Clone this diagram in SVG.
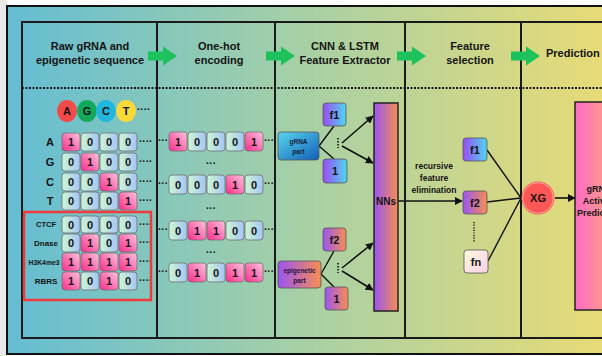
<svg xmlns="http://www.w3.org/2000/svg" width="602" height="356" viewBox="0 0 602 356">
<defs>
<linearGradient id="bg" x1="0" y1="0" x2="1" y2="0"><stop offset="0" stop-color="#63bdd3"/><stop offset="0.5" stop-color="#a8d0a5"/><stop offset="1" stop-color="#e8db76"/></linearGradient>
<linearGradient id="gOne" x1="0" y1="1" x2="1" y2="0"><stop offset="0" stop-color="#ff2a8c"/><stop offset="1" stop-color="#ffc6dd"/></linearGradient>
<linearGradient id="gZero" x1="0" y1="0" x2="1" y2="0"><stop offset="0" stop-color="#cbf7d6"/><stop offset="1" stop-color="#a6c4f4"/></linearGradient>
<linearGradient id="gPC" x1="0" y1="0" x2="1" y2="0"><stop offset="0" stop-color="#9a4cf5"/><stop offset="1" stop-color="#4fd6ee"/></linearGradient>
<linearGradient id="gPO" x1="0" y1="0" x2="1" y2="0"><stop offset="0" stop-color="#9a55f2"/><stop offset="1" stop-color="#f78d52"/></linearGradient>
<linearGradient id="gGR" x1="0" y1="0" x2="1" y2="1"><stop offset="0" stop-color="#5ad6ee"/><stop offset="1" stop-color="#1160b6"/></linearGradient>
<linearGradient id="gFN" x1="0" y1="0" x2="1" y2="1"><stop offset="0" stop-color="#fffbdc"/><stop offset="1" stop-color="#ffcfe9"/></linearGradient>
<linearGradient id="gPred" x1="0" y1="0" x2="1" y2="0"><stop offset="0" stop-color="#ff6cc4"/><stop offset="1" stop-color="#ffa57c"/></linearGradient>
<marker id="ah" viewBox="0 0 10 10" refX="9" refY="5" markerWidth="8" markerHeight="8" markerUnits="userSpaceOnUse" orient="auto"><path d="M0,0 L10,5 L0,10 z" fill="#111"/></marker>
<g id="garrow"><path d="M0,-4.5 H15 V-9.5 L29,0 L15,9.5 V4.5 H0 z" fill="#1ec25c"/></g>
</defs>
<style>
text{font-family:"Liberation Sans",Arial,sans-serif;font-weight:bold;fill:#141414;text-anchor:middle}
.hd{font-size:11px}
.one{fill:url(#gOne);stroke:#6e6e6e;stroke-width:0.8}
.zero{fill:url(#gZero);stroke:#6e6e6e;stroke-width:0.8}
.d{font-size:11px}
.lab{font-size:11px}
.sm{font-size:7.5px}
.dots{font-size:10px;text-anchor:start}
.bx{stroke:#555;stroke-width:0.8}
.ln{stroke:#111;stroke-width:1.4;fill:none}
.arr{stroke:#111;stroke-width:1.6;fill:none;marker-end:url(#ah)}
.grid{stroke:#1a1a1a;stroke-width:2;fill:none}
</style>
<rect x="0" y="0" width="602" height="356" fill="#ffffff"/>
<rect x="0" y="0" width="7" height="356" fill="#e9e9e9"/>
<rect x="7" y="6" width="600" height="348" fill="url(#bg)" stroke="#111" stroke-width="2"/>
<g id="table">
<rect class="grid" x="22" y="22" width="600" height="316"/>
<line class="grid" x1="157" y1="22" x2="157" y2="338"/>
<line class="grid" x1="275" y1="22" x2="275" y2="338"/>
<line class="grid" x1="405" y1="22" x2="405" y2="338"/>
<line class="grid" x1="521" y1="22" x2="521" y2="338"/>
<line x1="22" y1="88" x2="602" y2="88" stroke="#1a1a1a" stroke-width="2" stroke-dasharray="2 1.5"/>
</g>
<g id="headers">
<text class="hd" x="90" y="50">Raw gRNA and</text>
<text class="hd" x="90" y="64">epigenetic sequence</text>
<text class="hd" x="219" y="50">One-hot</text>
<text class="hd" x="219" y="64">encoding</text>
<text class="hd" x="345" y="50">CNN &amp; LSTM</text>
<text class="hd" x="345" y="64">Feature Extractor</text>
<text class="hd" x="470" y="50">Feature</text>
<text class="hd" x="470" y="64">selection</text>
<text class="hd" x="546" y="57" style="text-anchor:start">Prediction</text>
<use href="#garrow" x="148" y="56"/>
<use href="#garrow" x="266" y="56"/>
<use href="#garrow" x="397" y="56"/>
<use href="#garrow" x="511" y="56"/>
</g>
<g id="nucleotides">
<ellipse cx="67" cy="111" rx="10" ry="11" fill="#f24a4a"/>
<ellipse cx="87" cy="111" rx="10" ry="11" fill="#14a85a"/>
<ellipse cx="106" cy="111" rx="10" ry="11" fill="#22b6dd"/>
<ellipse cx="126" cy="111" rx="10" ry="11" fill="#ffd83a"/>
<text class="lab" x="67" y="115">A</text>
<text class="lab" x="87" y="115">G</text>
<text class="lab" x="106" y="115">C</text>
<text class="lab" x="126" y="115">T</text>
<text class="dots" x="137" y="113">····</text>
</g>
<g id="raw-matrix">
<text class="lab" x="50" y="146">A</text>
<text class="lab" x="50" y="166">G</text>
<text class="lab" x="50" y="186">C</text>
<text class="lab" x="50" y="205">T</text>
<text class="sm" x="46" y="227">CTCF</text>
<text class="sm" x="46" y="246" style="font-size:8px">Dnase</text>
<text class="sm" x="44" y="265" style="font-size:6.8px">H3K4me3</text>
<text class="sm" x="46" y="284" style="font-size:8px">RBRS</text>
<rect class="one" x="62" y="133" width="18" height="18" rx="3"/><text class="d" x="71" y="146">1</text>
<rect class="zero" x="81" y="133" width="18" height="18" rx="3"/><text class="d" x="90" y="146">0</text>
<rect class="zero" x="100" y="133" width="18" height="18" rx="3"/><text class="d" x="109" y="146">0</text>
<rect class="zero" x="119" y="133" width="18" height="18" rx="3"/><text class="d" x="128" y="146">0</text>
<rect class="zero" x="62" y="153" width="18" height="18" rx="3"/><text class="d" x="71" y="166">0</text>
<rect class="one" x="81" y="153" width="18" height="18" rx="3"/><text class="d" x="90" y="166">1</text>
<rect class="zero" x="100" y="153" width="18" height="18" rx="3"/><text class="d" x="109" y="166">0</text>
<rect class="zero" x="119" y="153" width="18" height="18" rx="3"/><text class="d" x="128" y="166">0</text>
<rect class="zero" x="62" y="173" width="18" height="18" rx="3"/><text class="d" x="71" y="186">0</text>
<rect class="zero" x="81" y="173" width="18" height="18" rx="3"/><text class="d" x="90" y="186">0</text>
<rect class="one" x="100" y="173" width="18" height="18" rx="3"/><text class="d" x="109" y="186">1</text>
<rect class="zero" x="119" y="173" width="18" height="18" rx="3"/><text class="d" x="128" y="186">0</text>
<rect class="zero" x="62" y="192" width="18" height="18" rx="3"/><text class="d" x="71" y="205">0</text>
<rect class="zero" x="81" y="192" width="18" height="18" rx="3"/><text class="d" x="90" y="205">0</text>
<rect class="zero" x="100" y="192" width="18" height="18" rx="3"/><text class="d" x="109" y="205">0</text>
<rect class="one" x="119" y="192" width="18" height="18" rx="3"/><text class="d" x="128" y="205">1</text>
<rect class="zero" x="62" y="216" width="18" height="17" rx="3"/><text class="d" x="71" y="229">0</text>
<rect class="zero" x="81" y="216" width="18" height="17" rx="3"/><text class="d" x="90" y="229">0</text>
<rect class="zero" x="100" y="216" width="18" height="17" rx="3"/><text class="d" x="109" y="229">0</text>
<rect class="zero" x="119" y="216" width="18" height="17" rx="3"/><text class="d" x="128" y="229">0</text>
<rect class="zero" x="62" y="234" width="18" height="18" rx="3"/><text class="d" x="71" y="247">0</text>
<rect class="one" x="81" y="234" width="18" height="18" rx="3"/><text class="d" x="90" y="247">1</text>
<rect class="zero" x="100" y="234" width="18" height="18" rx="3"/><text class="d" x="109" y="247">0</text>
<rect class="one" x="119" y="234" width="18" height="18" rx="3"/><text class="d" x="128" y="247">1</text>
<rect class="one" x="62" y="253" width="18" height="18" rx="3"/><text class="d" x="71" y="266">1</text>
<rect class="one" x="81" y="253" width="18" height="18" rx="3"/><text class="d" x="90" y="266">1</text>
<rect class="one" x="100" y="253" width="18" height="18" rx="3"/><text class="d" x="109" y="266">1</text>
<rect class="one" x="119" y="253" width="18" height="18" rx="3"/><text class="d" x="128" y="266">1</text>
<rect class="one" x="62" y="272" width="18" height="18" rx="3"/><text class="d" x="71" y="285">1</text>
<rect class="zero" x="81" y="272" width="18" height="18" rx="3"/><text class="d" x="90" y="285">0</text>
<rect class="one" x="100" y="272" width="18" height="18" rx="3"/><text class="d" x="109" y="285">1</text>
<rect class="zero" x="119" y="272" width="18" height="18" rx="3"/><text class="d" x="128" y="285">0</text>
<text class="dots" x="139" y="145">····</text>
<text class="dots" x="139" y="165">····</text>
<text class="dots" x="139" y="185">····</text>
<text class="dots" x="139" y="204">····</text>
<text class="dots" x="139" y="228">····</text>
<text class="dots" x="139" y="246">····</text>
<text class="dots" x="139" y="265">····</text>
<text class="dots" x="139" y="284">····</text>
<rect x="24" y="212" width="127" height="88" fill="none" stroke="#ef3b3b" stroke-width="2.5"/>
</g>
<g id="onehot">
<rect class="one" x="169" y="132" width="18" height="19" rx="3"/><text class="d" x="178" y="146">1</text>
<rect class="zero" x="188" y="132" width="18" height="19" rx="3"/><text class="d" x="197" y="146">0</text>
<rect class="zero" x="207" y="132" width="18" height="19" rx="3"/><text class="d" x="216" y="146">0</text>
<rect class="zero" x="226" y="132" width="18" height="19" rx="3"/><text class="d" x="235" y="146">0</text>
<rect class="one" x="245" y="132" width="18" height="19" rx="3"/><text class="d" x="254" y="146">1</text>
<rect class="zero" x="169" y="175" width="18" height="19" rx="3"/><text class="d" x="178" y="189">0</text>
<rect class="zero" x="188" y="175" width="18" height="19" rx="3"/><text class="d" x="197" y="189">0</text>
<rect class="zero" x="207" y="175" width="18" height="19" rx="3"/><text class="d" x="216" y="189">0</text>
<rect class="one" x="226" y="175" width="18" height="19" rx="3"/><text class="d" x="235" y="189">1</text>
<rect class="zero" x="245" y="175" width="18" height="19" rx="3"/><text class="d" x="254" y="189">0</text>
<rect class="zero" x="169" y="221" width="18" height="19" rx="3"/><text class="d" x="178" y="235">0</text>
<rect class="one" x="188" y="221" width="18" height="19" rx="3"/><text class="d" x="197" y="235">1</text>
<rect class="one" x="207" y="221" width="18" height="19" rx="3"/><text class="d" x="216" y="235">1</text>
<rect class="zero" x="226" y="221" width="18" height="19" rx="3"/><text class="d" x="235" y="235">0</text>
<rect class="zero" x="245" y="221" width="18" height="19" rx="3"/><text class="d" x="254" y="235">0</text>
<rect class="zero" x="169" y="263" width="18" height="19" rx="3"/><text class="d" x="178" y="277">0</text>
<rect class="one" x="188" y="263" width="18" height="19" rx="3"/><text class="d" x="197" y="277">1</text>
<rect class="zero" x="207" y="263" width="18" height="19" rx="3"/><text class="d" x="216" y="277">0</text>
<rect class="one" x="226" y="263" width="18" height="19" rx="3"/><text class="d" x="235" y="277">1</text>
<rect class="one" x="245" y="263" width="18" height="19" rx="3"/><text class="d" x="254" y="277">1</text>
<text class="dots" x="158" y="144">···</text><text class="dots" x="264" y="144">···</text>
<text class="dots" x="158" y="187">···</text><text class="dots" x="264" y="187">···</text>
<text class="dots" x="158" y="233">···</text><text class="dots" x="264" y="233">···</text>
<text class="dots" x="158" y="275">···</text><text class="dots" x="264" y="275">···</text>
<text class="dots" x="211" y="167" style="text-anchor:middle">···</text>
<text class="dots" x="211" y="212" style="text-anchor:middle">···</text>
<text class="dots" x="211" y="256" style="text-anchor:middle">···</text>
</g>
<g id="connectors">
<line class="ln" x1="319" y1="146" x2="334" y2="126"/>
<line class="ln" x1="319" y1="146" x2="334" y2="159"/>
<line class="ln" x1="321" y1="274" x2="334" y2="251"/>
<line class="ln" x1="321" y1="274" x2="334" y2="287"/>
<line class="arr" x1="342" y1="143" x2="373" y2="116"/>
<line class="arr" x1="342" y1="146" x2="373" y2="163"/>
<line class="arr" x1="342" y1="268" x2="373" y2="243"/>
<line class="arr" x1="342" y1="271" x2="373" y2="290"/>
<line class="arr" x1="398" y1="201" x2="462" y2="201"/>
<line class="ln" x1="487" y1="150" x2="521" y2="198"/>
<line class="ln" x1="487" y1="202" x2="521" y2="198"/>
<line class="ln" x1="488" y1="261" x2="521" y2="198"/>
<line class="arr" x1="555" y1="198" x2="575" y2="198"/>
<line x1="338" y1="138" x2="338" y2="148" stroke="#111" stroke-width="1.6" stroke-dasharray="1.5 1.5"/>
<line x1="338" y1="263" x2="338" y2="273" stroke="#111" stroke-width="1.6" stroke-dasharray="1.5 1.5"/>
<line x1="474" y1="222" x2="474" y2="242" stroke="#111" stroke-width="1.4" stroke-dasharray="1.2 1.4"/>
</g>
<g id="f1-grna">
<rect class="bx" x="323" y="103" width="23" height="23" rx="3" fill="url(#gPC)"/>
<text class="d" x="334.5" y="119">f1</text>
</g>
<g id="grna-part">
<rect class="bx" x="278" y="132" width="41" height="28" rx="3" fill="url(#gGR)"/>
<text x="298.5" y="144" style="font-size:6.5px;fill:#14213d">gRNA</text>
<text x="298.5" y="154" style="font-size:6.5px;fill:#14213d">part</text>
</g>
<g id="one-grna">
<rect class="bx" x="323" y="159" width="24" height="24" rx="3" fill="url(#gPC)"/>
<text class="d" x="335" y="175">1</text>
</g>
<g id="f2-epi">
<rect class="bx" x="323" y="228" width="23" height="23" rx="3" fill="url(#gPO)"/>
<text class="d" x="334.5" y="244">f2</text>
</g>
<g id="epigenetic-part">
<rect class="bx" x="278" y="261" width="43" height="27" rx="3" fill="url(#gPO)"/>
<text x="299.5" y="273" style="font-size:6.5px;fill:#2a1040">epigenetic</text>
<text x="299.5" y="283" style="font-size:6.5px;fill:#2a1040">part</text>
</g>
<g id="one-epi">
<rect class="bx" x="325" y="287" width="23" height="23" rx="3" fill="url(#gPO)"/>
<text class="d" x="336.5" y="303">1</text>
</g>
<g id="nns">
<rect x="374" y="103" width="24" height="208" fill="url(#gPO)" stroke="#222" stroke-width="1.5"/>
<text x="386" y="205" style="font-size:10px">NNs</text>
</g>
<g id="rfe-label">
<text x="434" y="169" style="font-size:8.5px">recursive</text>
<text x="434" y="181" style="font-size:8.5px">feature</text>
<text x="434" y="193" style="font-size:8.5px">elimination</text>
</g>
<g id="sel-f1">
<rect class="bx" x="463" y="138" width="24" height="23" rx="3" fill="url(#gPC)"/>
<text class="d" x="475" y="154">f1</text>
</g>
<g id="sel-f2">
<rect class="bx" x="463" y="191" width="24" height="23" rx="3" fill="url(#gPO)"/>
<text class="d" x="475" y="207">f2</text>
</g>
<g id="sel-fn">
<rect class="bx" x="464" y="250" width="24" height="23" rx="3" fill="url(#gFN)"/>
<text class="d" x="476" y="266">fn</text>
</g>
<g id="xg">
<circle cx="538" cy="198" r="16.5" fill="#ff5656"/>
<circle cx="538" cy="198" r="15.3" fill="none" stroke="#ffb3a6" stroke-width="0.9"/>
<text x="538" y="202" style="font-size:11px">XG</text>
</g>
<g id="prediction">
<rect x="575" y="102" width="40" height="208" fill="url(#gPred)" stroke="#222" stroke-width="1.5"/>
<text x="599" y="192" style="font-size:9px">gRNA</text>
<text x="599" y="204" style="font-size:9px">Activity</text>
<text x="599" y="216" style="font-size:9px">Prediction</text>
</g>
</svg>
